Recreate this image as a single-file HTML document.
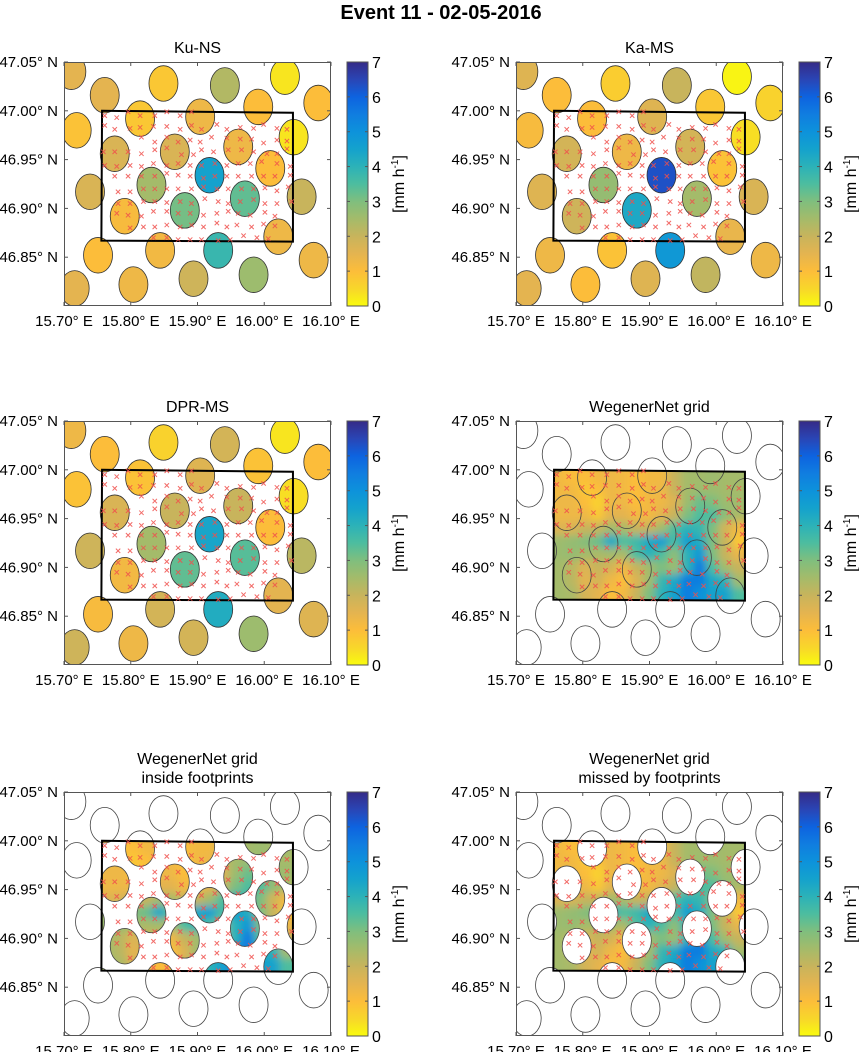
<!DOCTYPE html>
<html><head><meta charset="utf-8"><style>
html,body{margin:0;padding:0;background:#fff;}
svg{display:block;font-family:"Liberation Sans",Arial,sans-serif;}
</style></head><body>
<svg id="fig" width="859" height="1052" viewBox="0 0 859 1052" xmlns="http://www.w3.org/2000/svg">
<defs>
<linearGradient id="cmapGrad" x1="0" y1="1" x2="0" y2="0">
<stop offset="0" stop-color="#f9fb0e"/><stop offset="0.07" stop-color="#f8d72a"/><stop offset="0.143" stop-color="#fcbd3a"/>
<stop offset="0.214" stop-color="#e4b450"/><stop offset="0.286" stop-color="#c8b45c"/><stop offset="0.357" stop-color="#a4bb6a"/>
<stop offset="0.429" stop-color="#7fbe7e"/><stop offset="0.5" stop-color="#4dbd9f"/><stop offset="0.571" stop-color="#2cb2b8"/>
<stop offset="0.643" stop-color="#14a2cd"/><stop offset="0.714" stop-color="#0d92db"/><stop offset="0.786" stop-color="#107de0"/>
<stop offset="0.857" stop-color="#0d63e0"/><stop offset="0.929" stop-color="#2a45b5"/><stop offset="1" stop-color="#352a87"/>
</linearGradient>
<filter id="blurF" x="-10%" y="-10%" width="120%" height="120%"><feGaussianBlur stdDeviation="4"/></filter>
</defs>
<text x="441" y="19" text-anchor="middle" font-size="20" font-weight="bold">Event 11 - 02-05-2016</text>
</svg>
<script>
// ---- data ----
const fpLon = [15.711,15.761,15.849,15.941,16.031,16.081,15.719,15.814,15.904,15.991,16.044,15.776,15.866,15.961,16.009,15.739,15.831,15.918,16.056,15.791,15.881,15.971,16.021,15.751,15.844,15.931,16.074,15.716,15.804,15.894,15.984];
const fpLat = [47.040,47.016,47.028,47.026,47.035,47.008,46.980,46.992,46.994,47.004,46.973,46.956,46.958,46.963,46.941,46.917,46.924,46.934,46.912,46.892,46.898,46.910,46.871,46.852,46.857,46.857,46.847,46.818,46.822,46.828,46.832];
const kuVals = [1.5,1.5,0.8,2.3,0.3,1.0,0.9,0.8,1.3,1.0,0.3,1.7,1.7,1.3,1.0,1.7,2.5,4.5,2.0,1.1,3.1,3.3,1.3,1.0,1.2,3.8,1.3,1.5,1.3,1.9,2.6];
const kaVals = [1.6,1.0,0.7,2.0,0.1,0.6,1.1,1.0,1.6,0.8,0.4,1.8,1.3,1.8,0.9,1.6,2.7,6.3,1.7,1.9,4.3,2.5,1.4,1.3,0.9,4.8,1.3,1.5,1.0,1.6,2.1];
const dprVals = [1.3,1.0,0.6,1.8,0.3,1.0,0.9,0.9,1.6,0.9,0.4,1.7,2.0,2.0,1.0,1.9,2.5,4.4,2.2,1.2,3.3,3.4,1.5,1.1,1.8,4.2,1.6,1.9,1.3,1.8,2.6];
const stations = [
[15.761,46.995],[15.779,46.993],[15.796,46.999],[15.814,46.995],[15.836,46.995],[15.854,46.999],[15.874,46.995],[15.891,46.999],
[15.761,46.985],[15.776,46.981],[15.799,46.982],[15.814,46.983],[15.834,46.984],[15.854,46.984],[15.874,46.981],[15.891,46.985],[15.906,46.981],[15.929,46.986],[15.944,46.981],[15.964,46.983],[15.984,46.982],[15.999,46.986],[16.019,46.982],[16.034,46.981],
[15.816,46.973],[15.836,46.968],[15.854,46.973],[15.871,46.968],[15.889,46.970],[15.904,46.968],[15.921,46.973],[15.944,46.972],[15.964,46.971],[15.981,46.971],[15.999,46.967],[16.019,46.970],[16.034,46.969],
[15.759,46.958],[15.776,46.958],[15.796,46.958],[15.816,46.956],[15.836,46.960],[15.854,46.962],[15.876,46.955],[15.894,46.955],[15.906,46.960],[15.924,46.958],[15.946,46.960],[15.966,46.960],[15.984,46.958],[16.004,46.956],[16.019,46.956],[16.034,46.961],
[15.761,46.944],[15.779,46.943],[15.799,46.944],[15.816,46.943],[15.834,46.946],[15.854,46.944],[15.871,46.946],[15.889,46.944],[15.906,46.944],[15.926,46.946],[15.944,46.944],[15.961,46.946],[15.979,46.946],[15.996,46.948],[16.019,46.946],[16.039,46.943],
[15.776,46.933],[15.796,46.933],[15.816,46.933],[15.836,46.933],[15.854,46.936],[15.871,46.934],[15.889,46.933],[15.909,46.931],[15.926,46.933],[15.944,46.933],[15.961,46.933],[15.981,46.933],[15.999,46.933],[16.016,46.933],[16.039,46.934],
[15.781,46.917],[15.799,46.917],[15.819,46.920],[15.836,46.920],[15.854,46.920],[15.871,46.920],[15.891,46.920],[15.909,46.922],[15.929,46.920],[15.946,46.920],[15.966,46.920],[15.984,46.920],[16.001,46.921],[16.019,46.918],[16.036,46.922],
[15.781,46.905],[15.799,46.905],[15.819,46.907],[15.836,46.907],[15.854,46.906],[15.874,46.907],[15.891,46.905],[15.911,46.910],[15.931,46.907],[15.946,46.905],[15.964,46.907],[15.984,46.909],[16.001,46.905],[16.019,46.905],[16.041,46.907],
[15.779,46.895],[15.796,46.893],[15.816,46.892],[15.834,46.897],[15.854,46.897],[15.871,46.895],[15.889,46.895],[15.909,46.893],[15.929,46.895],[15.946,46.897],[15.961,46.895],[15.979,46.893],[16.001,46.896],[16.016,46.892],
[15.799,46.880],[15.819,46.881],[15.836,46.881],[15.854,46.883],[15.874,46.881],[15.891,46.883],[15.909,46.881],[15.929,46.885],[15.944,46.881],[15.959,46.883],[15.981,46.881],[15.999,46.884],[16.016,46.882],
[15.834,46.870],[15.854,46.870],[15.871,46.868],[15.889,46.868],[15.906,46.868],[15.931,46.867],[15.949,46.868],[15.969,46.872],[15.989,46.870],[16.006,46.869]];
const boxLon = [15.757,16.043,16.043,15.756];
const boxLat = [47.000,46.998,46.866,46.867];
const gridVals = [
[1.2,1.0,1.0,1.2,1.3,1.2,1.0,1.2,1.2,2.0,2.5,2.5,2.6,2.5,2.5],
[1.2,1.2,0.8,1.0,1.3,1.2,1.0,1.2,1.3,2.0,2.5,2.6,2.6,2.5,2.5],
[1.3,1.3,1.0,0.6,1.3,1.3,1.0,1.2,1.3,1.6,2.6,3.2,3.0,2.6,2.6],
[1.3,1.3,1.3,0.8,1.5,1.5,1.2,1.2,1.5,2.0,3.0,3.5,3.5,2.8,2.4],
[1.6,1.7,2.0,2.0,2.5,2.4,2.0,2.0,2.5,3.5,4.0,3.8,3.0,1.8,1.2],
[2.6,2.7,2.9,3.2,4.3,3.5,3.7,4.3,4.6,3.6,4.6,4.2,3.0,2.0,0.8],
[2.6,2.7,2.5,2.4,2.5,2.4,3.5,4.0,3.5,2.8,4.0,4.8,3.0,2.0,1.4],
[2.5,2.2,1.6,2.0,1.8,1.3,2.0,2.5,3.0,2.6,4.0,5.5,3.5,2.5,2.0],
[2.5,2.2,1.5,1.8,1.3,1.0,1.6,2.5,3.8,4.3,5.5,5.5,4.3,4.0,2.5],
[2.5,2.4,1.8,1.5,1.0,1.2,2.0,3.0,4.0,4.5,5.5,5.0,4.5,4.5,3.5]];
const xTicks = [15.70,15.80,15.90,16.00,16.10];
const xTickLabels = ["15.70° E","15.80° E","15.90° E","16.00° E","16.10° E"];
const yTicks = [47.05,47.00,46.95,46.90,46.85];
const yTickLabels = ["47.05° N","47.00° N","46.95° N","46.90° N","46.85° N"];
const cbTicks = [0,1,2,3,4,5,6,7];

// ---- colormap ----
const cStops = [[0,[249,251,14]],[0.5,[248,215,42]],[1,[252,189,58]],[1.5,[228,180,80]],[2,[200,180,92]],[2.5,[164,187,106]],[3,[127,190,126]],[3.5,[77,189,159]],[4,[44,178,184]],[4.5,[20,162,205]],[5,[13,146,219]],[5.5,[16,125,224]],[6,[13,99,224]],[6.5,[42,69,181]],[7,[53,42,135]]];
function cmap(v){v=Math.max(0,Math.min(7,v));for(let i=1;i<cStops.length;i++){if(v<=cStops[i][0]){const a=cStops[i-1],b=cStops[i];const t=(v-a[0])/(b[0]-a[0]);const c=a[1].map((q,k)=>Math.round(q+(b[1][k]-q)*t));return `rgb(${c[0]},${c[1]},${c[2]})`;}}return 'rgb(53,42,135)';}

const NS='http://www.w3.org/2000/svg';
const svg=document.getElementById('fig');
const defs=svg.querySelector('defs');
function mk(tag,attrs,parent){const e=document.createElementNS(NS,tag);for(const k in attrs)e.setAttribute(k,attrs[k]);if(parent)parent.appendChild(e);return e;}

const AW=267, AH=244, RX=14.5, RY=17.8;
const panels=[
 {x0:64,y0:62,title:["Ku-NS"],type:'fp',vals:kuVals,name:'ku-ns'},
 {x0:516,y0:62,title:["Ka-MS"],type:'fp',vals:kaVals,name:'ka-ms'},
 {x0:64,y0:421,title:["DPR-MS"],type:'fp',vals:dprVals,name:'dpr-ms'},
 {x0:516,y0:421,title:["WegenerNet grid"],type:'grid',name:'wegenernet-grid'},
 {x0:64,y0:792,title:["WegenerNet grid","inside footprints"],type:'inside',name:'wegenernet-inside'},
 {x0:516,y0:792,title:["WegenerNet grid","missed by footprints"],type:'missed',name:'wegenernet-missed'}];

panels.forEach((p,pi)=>{
 const sx=lon=>p.x0+(lon-15.70)*(AW/0.4);
 const sy=lat=>p.y0+(47.05-lat)*(AH/0.25);
 const g=mk('g',{},svg);
 
 
 const cpA=mk('clipPath',{id:'ax'+pi},defs); mk('rect',{x:p.x0,y:p.y0,width:AW,height:AH},cpA);
 const boxPts=boxLon.map((l,i)=>sx(l)+','+sy(boxLat[i])).join(' ');
 const cpB=mk('clipPath',{id:'bx'+pi},defs); mk('polygon',{points:boxPts},cpB);
 const inner=mk('g',{'clip-path':`url(#ax${pi})`},g);
 function heat(parent){
  const nr=gridVals.length,nc=gridVals[0].length;
  const lonL=Math.min(...boxLon),lonR=Math.max(...boxLon),latT=Math.max(...boxLat),latB=Math.min(...boxLat);
  const cw=(sx(lonR)-sx(lonL))/nc, ch=(sy(latB)-sy(latT))/nr;
  const hg=mk('g',{filter:'url(#blurF)'},parent);
  
  
  for(let r=-2;r<nr+2;r++)for(let c=-2;c<nc+2;c++){
   const rr=Math.max(0,Math.min(nr-1,r)),cc=Math.max(0,Math.min(nc-1,c));
   const cell=mk('rect',{x:sx(lonL)+c*cw-0.5,y:sy(latT)+r*ch-0.5,width:cw+1,height:ch+1,fill:cmap(gridVals[rr][cc])},hg);
   
   
  }
 }
 if(p.type==='fp'){
  fpLon.forEach((l,i)=>{const e=mk('ellipse',{cx:sx(l),cy:sy(fpLat[i]),rx:RX,ry:RY,fill:cmap(p.vals[i]),stroke:'#333',"stroke-width":0.8},inner);
   
   });
 } else {
  if(p.type==='grid'||p.type==='missed'){
   const hb=mk('g',{'clip-path':`url(#bx${pi})`},inner); heat(hb);
   if(p.type==='missed'){
    fpLon.forEach((l,i)=>{const e=mk('ellipse',{cx:sx(l),cy:sy(fpLat[i]),rx:RX,ry:RY,fill:'#fff'},hb);
     
     });
   }
  } else {
   const cpE=mk('clipPath',{id:'el'+pi},defs);
   fpLon.forEach((l,i)=>mk('ellipse',{cx:sx(l),cy:sy(fpLat[i]),rx:RX,ry:RY},cpE));
   const hb=mk('g',{'clip-path':`url(#bx${pi})`},inner);
   const he=mk('g',{'clip-path':`url(#el${pi})`},hb); heat(he);
  }
  fpLon.forEach((l,i)=>{const e=mk('ellipse',{cx:sx(l),cy:sy(fpLat[i]),rx:RX,ry:RY,fill:'none',stroke:'#444',"stroke-width":0.8},inner);
   
   });
 }
 const box=mk('polygon',{points:boxPts,fill:'none',stroke:'#000','stroke-width':2},inner);
 
 
 stations.forEach(s=>{const x=sx(s[0]),y=sy(s[1]),d=2.2;
  const c=mk('path',{d:`M${x-d},${y-d}L${x+d},${y+d}M${x-d},${y+d}L${x+d},${y-d}`,stroke:'#f0504c','stroke-width':1,'stroke-opacity':0.85},inner);
  
  });
 const fr=mk('rect',{x:p.x0+0.5,y:p.y0+0.5,width:AW-1,height:AH-1,fill:'none',stroke:'#555','stroke-width':1},g);
 
 
 xTicks.forEach((t,i)=>{const x=sx(t);
  mk('line',{x1:x,y1:p.y0+AH,x2:x,y2:p.y0+AH-4,stroke:'#555'},g);
  mk('line',{x1:x,y1:p.y0,x2:x,y2:p.y0+4,stroke:'#555'},g);
  const tx=mk('text',{x:x,y:p.y0+AH+20,'text-anchor':'middle','font-size':15},g);tx.textContent=xTickLabels[i];
  
  });
 yTicks.forEach((t,i)=>{const y=sy(t);
  mk('line',{x1:p.x0,y1:y,x2:p.x0+4,y2:y,stroke:'#555'},g);
  mk('line',{x1:p.x0+AW,y1:y,x2:p.x0+AW-4,y2:y,stroke:'#555'},g);
  const tx=mk('text',{x:p.x0-6,y:y+5,'text-anchor':'end','font-size':15},g);tx.textContent=yTickLabels[i];
  
  });
 p.title.forEach((t,k)=>{const ty=p.y0-(p.title.length-k-1)*19-9;
  const tt=mk('text',{x:p.x0+AW/2,y:ty,'text-anchor':'middle','font-size':16},g);tt.textContent=t;
  
  });
 const cbx=p.x0+283, cbw=21;
 const cb=mk('rect',{x:cbx,y:p.y0,width:cbw,height:AH,fill:'url(#cmapGrad)',stroke:'#555','stroke-width':1},g);
 
 
 cbTicks.forEach(t=>{const y=p.y0+AH-t/7*AH;
  mk('line',{x1:cbx,y1:y,x2:cbx+3,y2:y,stroke:'#555'},g);
  mk('line',{x1:cbx+cbw,y1:y,x2:cbx+cbw-3,y2:y,stroke:'#555'},g);
  const tx=mk('text',{x:cbx+cbw+4,y:y+6,'font-size':16},g);tx.textContent=String(t);
  
  });
 const lx=cbx+57, ly=p.y0+AH/2;
 const lab=mk('text',{x:lx,y:ly,'text-anchor':'middle','font-size':16,transform:`rotate(-90 ${lx} ${ly})`},g);
 lab.innerHTML='[mm h<tspan dy="-6" font-size="10">-1</tspan><tspan dy="6">]</tspan>';
 
 
});
</script>
</body></html>
